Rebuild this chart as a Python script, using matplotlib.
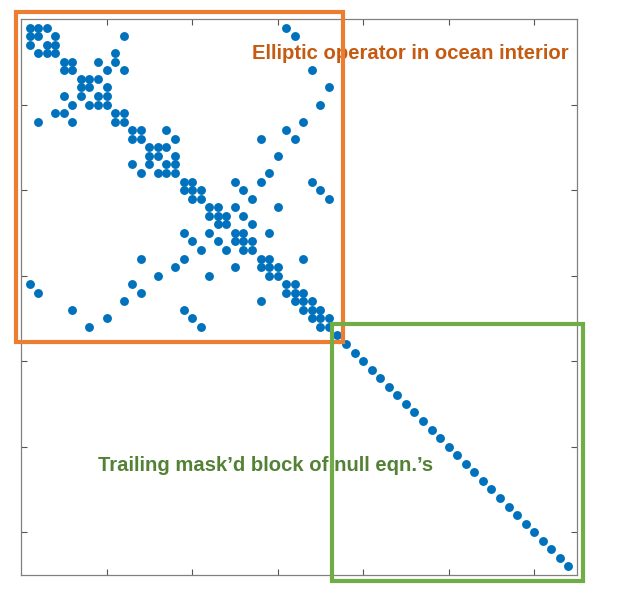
import numpy as np
import matplotlib
matplotlib.use("Agg")
import matplotlib.pyplot as plt
from matplotlib.patches import Rectangle

n = 64

# nonzero columns of rows 1..36 (elliptic operator block), 1-based like MATLAB
elliptic_rows = [
    [1, 2, 3, 31],
    [1, 2, 4, 12, 32],
    [1, 3, 4],
    [2, 3, 4, 11],
    [5, 6, 9, 11],
    [5, 6, 10, 12, 34],
    [7, 8, 9],
    [7, 8, 10, 36],
    [5, 7, 9, 10],
    [6, 8, 9, 10, 35],
    [4, 5, 11, 12],
    [2, 6, 11, 12, 33],
    [13, 14, 17, 31],
    [13, 14, 18, 28, 32],
    [15, 16, 17],
    [15, 16, 18, 30],
    [13, 15, 17, 18],
    [14, 16, 17, 18, 29],
    [19, 20, 25, 28, 34],
    [19, 20, 21, 26, 35],
    [20, 21, 27, 36],
    [22, 23, 25, 30],
    [22, 23, 24, 26],
    [23, 24, 27],
    [19, 22, 25, 26, 29],
    [20, 23, 25, 26, 27],
    [21, 24, 26, 27],
    [14, 19, 28, 29, 33],
    [18, 25, 28, 29, 30],
    [16, 22, 29, 30],
    [1, 13, 31, 32],
    [2, 14, 31, 32, 33],
    [12, 28, 32, 33, 34],
    [6, 19, 33, 34, 35],
    [10, 20, 34, 35, 36],
    [8, 21, 35, 36],
]

# masked rows: identity entries only
null_rows = [37, 38, 39, 40, 41, 42, 43, 44, 45, 46, 47, 48, 49, 50,
             51, 52, 53, 54, 55, 56, 57, 58, 59, 60, 61, 62, 63, 64]

A = np.zeros((n, n))
for i, cols in enumerate(elliptic_rows):
    for j in cols:
        A[i, j - 1] = 1
for k in null_rows:
    A[k - 1, k - 1] = 1

rows, cols = np.nonzero(A)

fig = plt.figure(figsize=(6.41, 5.97), dpi=100)
ax = fig.add_axes([21 / 641, 22 / 597, 556 / 641, 556 / 597])

ax.plot(cols + 1, rows + 1, 'o', color='#0072BD', ms=6.4, mew=0, clip_on=False)

ax.set_xlim(0, n + 1)
ax.set_ylim(n + 1, 0)
ax.set_xticks([10, 20, 30, 40, 50, 60])
ax.set_yticks([10, 20, 30, 40, 50, 60])
ax.set_xticklabels([])
ax.set_yticklabels([])
ax.tick_params(direction='in', top=True, right=True, length=4, width=0.8, color='#555555')
for s in ax.spines.values():
    s.set_color('#808080')
    s.set_linewidth(0.9)

# annotation boxes
ax.add_patch(Rectangle((-0.6, -0.8), 38.2, 38.6, fill=False, ec='#ED7D31', lw=3,
                       clip_on=False, zorder=5))
ax.add_patch(Rectangle((36.3, 35.7), 29.4, 30.0, fill=False, ec='#70AD47', lw=3,
                       clip_on=False, zorder=5))

ax.text(27.0, 4.0, 'Elliptic operator in ocean interior', color='#C55A11',
        fontsize=14.6, fontweight='bold', family='Liberation Sans', va='center', ha='left')
ax.text(9.0, 52.2, 'Trailing mask\u2019d block of null eqn.\u2019s', color='#538135',
        fontsize=14.6, fontweight='bold', family='Liberation Sans', va='center', ha='left')

fig.savefig('out.png', dpi=100)
